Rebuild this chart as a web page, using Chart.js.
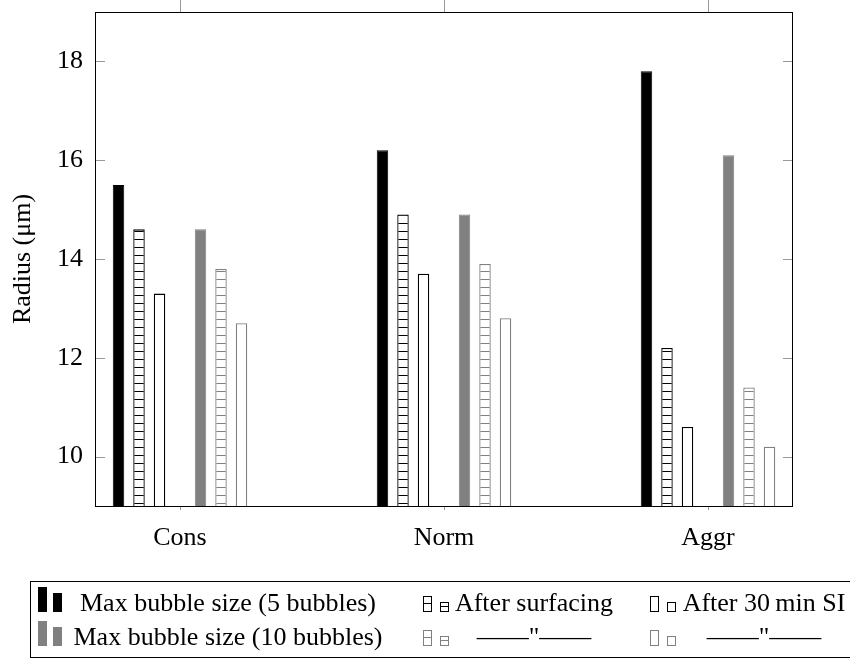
<!DOCTYPE html>
<html>
<head>
<meta charset="utf-8">
<script src="https://cdn.jsdelivr.net/npm/chart.js@4.4.0/dist/chart.umd.min.js"></script>
<style>
  html, body { margin: 0; padding: 0; background: #fff; }
  #wrap { position: relative; width: 850px; height: 661px; overflow: hidden;
          font-family: "Liberation Serif", "Times New Roman", serif; }
  #chart { position: absolute; left: 0; top: 0; }
  #legendBox { position: absolute; left: 30px; top: 581px; width: 840px; height: 77px;
               border: 1px solid #000; box-sizing: border-box; }
  .lbl { position: absolute; font-size: 26px; line-height: 26px; white-space: nowrap;
         text-align: center; color: #000; }
  .sym { position: absolute; box-sizing: border-box; }
</style>
</head>
<body>
<div id="wrap">
  <canvas id="chart" width="850" height="661"></canvas>
  <div id="legendBox"></div>
</div>
<script>
// Chart data
const categories = ['Cons', 'Norm', 'Aggr'];
const maxSize5 = [15.5, 16.2, 17.8];
const surfacing5 = [14.6, 14.9, 12.2];
const after30min5 = [13.3, 13.7, 10.6];
const maxSize10 = [14.6, 14.9, 16.1];
const surfacing10 = [13.8, 13.9, 11.4];
const after30min10 = [12.7, 12.8, 10.2];
const yTicks = [10, 12, 14, 16, 18];
const legendLabels = [
    'Max bubble size (5 bubbles)', 'After surfacing', 'After 30\u2009min SI',
    'Max bubble size (10 bubbles)', '\u2014\u2014"\u2014\u2014', '\u2014\u2014"\u2014\u2014'
];

const FONT = '"Liberation Serif", "Times New Roman", serif';
const BLACK = '#000';
const GREY = '#808080';

// Horizontal line hatch used by the "after surfacing" bars
function hatch(color) {
    const c = document.createElement('canvas');
    c.width = 8;
    c.height = 8;
    const g = c.getContext('2d');
    g.fillStyle = '#fff';
    g.fillRect(0, 0, 8, 8);
    g.fillStyle = color;
    g.fillRect(0, 7, 8, 1);
    return g.createPattern(c, 'repeat');
}

// Series definitions: kind = solid | hatch | open
const series = [
    { values: maxSize5, color: BLACK, kind: 'solid', label: legendLabels[0] },
    { values: surfacing5, color: BLACK, kind: 'hatch', label: legendLabels[1] },
    { values: after30min5, color: BLACK, kind: 'open', label: legendLabels[2] },
    { values: null }, // empty slot between the two groups
    { values: maxSize10, color: GREY, kind: 'solid', label: legendLabels[3] },
    { values: surfacing10, color: GREY, kind: 'hatch', label: legendLabels[4] },
    { values: after30min10, color: GREY, kind: 'open', label: legendLabels[5] }
];

function fillFor(s) {
    if (s.kind === 'solid') return s.color;
    if (s.kind === 'hatch') return hatch(s.color);
    return '#fff';
}

const datasets = series.map(s => ({
    label: s.label || '',
    data: categories.map((c, i) => ({ x: i + 1, y: s.values ? s.values[i] : null })),
    backgroundColor: s.values ? fillFor(s) : 'transparent',
    borderColor: s.color || 'transparent',
    borderWidth: s.kind === 'solid' ? 1 : 1.3,
    borderSkipped: 'start'
}));

// Inside ticks and the closed frame around the plot area
const framePlugin = {
    id: 'frame',
    afterDatasetsDraw(chart) {
        const { ctx, chartArea: a, scales: { x, y } } = chart;
        ctx.save();
        ctx.strokeStyle = '#999';
        ctx.lineWidth = 1;
        ctx.beginPath();
        y.ticks.forEach(t => {
            const py = Math.round(y.getPixelForValue(t.value)) + 0.5;
            ctx.moveTo(a.left, py);
            ctx.lineTo(a.left + 10, py);
            ctx.moveTo(a.right - 10, py);
            ctx.lineTo(a.right, py);
        });
        x.ticks.forEach(t => {
            const px = Math.round(x.getPixelForValue(t.value)) + 0.5;
            ctx.moveTo(px, 0);
            ctx.lineTo(px, a.top);
            ctx.moveTo(px, a.bottom);
            ctx.lineTo(px, a.bottom + 4);
        });
        ctx.stroke();
        ctx.strokeStyle = '#000';
        ctx.strokeRect(Math.round(a.left) + 0.5, Math.round(a.top) + 0.5,
            Math.round(a.width) - 1, Math.round(a.height));
        ctx.restore();
    }
};

new Chart(document.getElementById('chart'), {
    type: 'bar',
    data: { datasets },
    plugins: [framePlugin],
    options: {
        responsive: false,
        animation: false,
        layout: { padding: { top: 12, right: 57, left: 0, bottom: 0 } },
        datasets: { bar: { categoryPercentage: 0.5436, barPercentage: 0.56 } },
        plugins: { legend: { display: false }, tooltip: { enabled: false } },
        scales: {
            x: {
                type: 'linear',
                offset: false,
                min: 0.678,
                max: 3.322,
                grid: { display: false, drawTicks: false },
                border: { display: false },
                afterBuildTicks: s => { s.ticks = categories.map((c, i) => ({ value: i + 1 })); },
                afterFit: s => { s.height = 155; s.paddingLeft = 0; s.paddingRight = 0; },
                ticks: {
                    callback: v => categories[v - 1],
                    font: { family: FONT, size: 26 },
                    color: '#000',
                    padding: 17,
                    maxRotation: 0,
                    autoSkip: false
                }
            },
            y: {
                min: 9,
                max: 19,
                grid: { display: false, drawTicks: false },
                border: { display: false },
                afterBuildTicks: s => { s.ticks = yTicks.map(v => ({ value: v })); },
                afterFit: s => { s.width = 95; s.paddingTop = 0; s.paddingBottom = 0; },
                ticks: { font: { family: FONT, size: 26 }, color: '#000', padding: 12 },
                title: {
                    display: true,
                    text: 'Radius (\u03bcm)',
                    font: { family: FONT, size: 26 },
                    color: '#000',
                    padding: { top: 8, bottom: 0 }
                }
            }
        }
    }
});

// Legend laid out in two rows of three columns
const legendCols = [
    { symLeft: 38, gap: 15, w: 9, tall: 25, short: 19, textCenter: 228, textWidth: 330 },
    { symLeft: 423, gap: 17, w: 9, tall: 16, short: 10, textCenter: 534, textWidth: 170 },
    { symLeft: 650, gap: 17, w: 9, tall: 16, short: 10, textCenter: 764, textWidth: 170 }
];
const rowBase = [612, 646];
const wrap = document.getElementById('wrap');

series.filter(s => s.values).forEach((s, n) => {
    const col = legendCols[n % 3];
    const base = rowBase[Math.floor(n / 3)];
    [col.tall, col.short].forEach((h, k) => {
        const d = document.createElement('div');
        d.className = 'sym';
        d.style.left = (col.symLeft + k * col.gap) + 'px';
        d.style.top = (base - h) + 'px';
        d.style.width = col.w + 'px';
        d.style.height = h + 'px';
        if (s.kind === 'solid') {
            d.style.background = s.color;
        } else {
            d.style.border = '1px solid ' + s.color;
            d.style.background = s.kind === 'hatch'
                ? `linear-gradient(to bottom, transparent calc(50% - 0.5px), ${s.color} calc(50% - 0.5px), ${s.color} calc(50% + 0.5px), transparent calc(50% + 0.5px)), #fff`
                : '#fff';
        }
        wrap.appendChild(d);
    });
    const t = document.createElement('div');
    t.className = 'lbl';
    t.textContent = s.label;
    t.style.left = (col.textCenter - col.textWidth / 2) + 'px';
    t.style.width = col.textWidth + 'px';
    t.style.top = (base - 22) + 'px';
    wrap.appendChild(t);
});
</script>
</body>
</html>
